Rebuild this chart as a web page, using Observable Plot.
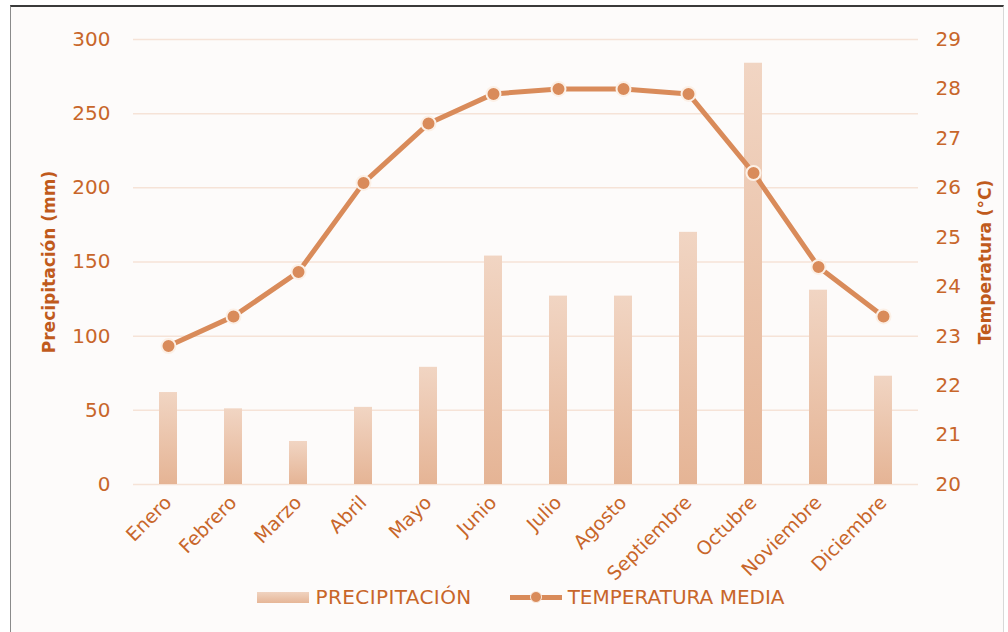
<!DOCTYPE html>
<html>
<head>
<meta charset="utf-8">
<script src="https://cdn.jsdelivr.net/npm/d3@7"></script>
<script src="https://cdn.jsdelivr.net/npm/@observablehq/plot@0.6"></script>
<style>
  html, body { margin: 0; padding: 0; background: #ffffff; }
  #page { position: relative; width: 1008px; height: 632px; overflow: hidden; font-family: "DejaVu Sans", sans-serif; }
  #frame { position: absolute; left: 10px; top: 5px; width: 992px; height: 625px; background: #fdfbfa;
           border-top: 2px solid #3a3a3a; border-left: 1px solid #8a8a8a; border-right: 1px solid #d8d8d8; border-bottom: 1px solid #d0d0d0; }
  #chart { position: absolute; left: 0; top: 0; }
  #legend { position: absolute; left: 17px; top: 585px; width: 1008px; display: flex; justify-content: center; align-items: center; color: #c8662a; font-size: 20px; }
  .item { display: flex; align-items: center; }
  .item.first { margin-right: 38px; }
  .item span.a { letter-spacing: 0.4px; }
  .swbar { width: 52px; height: 11px; background: linear-gradient(#f0d3c0, #e6b697); margin-right: 6px; }
  .swline { position: relative; width: 52px; height: 12px; margin-right: 6px; }
  .swline .l { position: absolute; left: 0; right: 0; top: 3.5px; height: 5px; background: #d98b5a; }
  .swline .d { position: absolute; left: 20px; top: 0; width: 10px; height: 10px; border-radius: 50%; background: #d98b5a; border: 1px solid #fbeee4; }
</style>
</head>
<body>
<div id="page">
  <div id="frame"></div>
  <div id="chart"></div>
  <div id="legend">
    <div class="item first"><div class="swbar"></div><span class="a">PRECIPITACIÓN</span></div>
    <div class="item"><div class="swline"><div class="l"></div><div class="d"></div></div><span>TEMPERATURA MEDIA</span></div>
  </div>
</div>
<script>
const months = ["Enero", "Febrero", "Marzo", "Abril", "Mayo", "Junio", "Julio", "Agosto", "Septiembre", "Octubre", "Noviembre", "Diciembre"];
const precipitation = [62, 51, 29, 52, 79, 154, 127, 127, 170, 284, 131, 73];
const temperature = [22.8, 23.4, 24.3, 26.1, 27.3, 27.9, 28.0, 28.0, 27.9, 26.3, 24.4, 23.4];
const precipTicks = [0, 50, 100, 150, 200, 250, 300];
const tempTicks = [20, 21, 22, 23, 24, 25, 26, 27, 28, 29];

const tMin = 20, tMax = 29, pMax = 300;
const tToY = t => (t - tMin) * pMax / (tMax - tMin);
const yToT = v => Math.round(v * (tMax - tMin) / pMax + tMin);

const data = months.map((m, i) => ({month: m, precip: precipitation[i], temp: temperature[i]}));

const textColor = "#c8662a";
const titleColor = "#c05a1c";
const lineColor = "#d98b5a";

function gradientDefs() {
  const ns = "http://www.w3.org/2000/svg";
  const defs = document.createElementNS(ns, "defs");
  const g = document.createElementNS(ns, "linearGradient");
  g.setAttribute("id", "barGrad");
  g.setAttribute("x1", "0"); g.setAttribute("y1", "0");
  g.setAttribute("x2", "0"); g.setAttribute("y2", "1");
  [["0%", "#f1d5c3"], ["100%", "#e5b495"]].forEach(([o, c]) => {
    const s = document.createElementNS(ns, "stop");
    s.setAttribute("offset", o); s.setAttribute("stop-color", c);
    g.appendChild(s);
  });
  defs.appendChild(g);
  return defs;
}

const chart = Plot.plot({
  width: 1008,
  height: 632,
  marginLeft: 133,
  marginRight: 90,
  marginTop: 39,
  marginBottom: 148,
  style: {background: "transparent", fontFamily: "DejaVu Sans, sans-serif", color: textColor},
  x: {domain: months, paddingInner: 0.72, paddingOuter: 0.36},
  y: {domain: [0, pMax]},
  marks: [
    gradientDefs,
    Plot.gridY(precipTicks, {stroke: "#f6e3d7", strokeOpacity: 1, strokeWidth: 1.5}),
    Plot.barY(data, {x: "month", y: "precip", fill: "url(#barGrad)"}),
    Plot.line(data, {x: "month", y: d => tToY(d.temp), stroke: lineColor, strokeWidth: 5, curve: "linear"}),
    Plot.dot(data, {x: "month", y: d => tToY(d.temp), r: 7, fill: lineColor, stroke: "#fcf0e6", strokeWidth: 2}),
    Plot.axisY(precipTicks, {anchor: "left", tickSize: 0, tickPadding: 23, fontSize: 20, fill: textColor, label: null}),
    Plot.axisY(tempTicks.map(tToY), {anchor: "right", tickSize: 0, tickPadding: 17, fontSize: 20, fill: textColor, tickFormat: yToT, label: null}),
    Plot.axisX({anchor: "bottom", tickSize: 0, tickPadding: 15, tickRotate: -45, fontSize: 19, fill: textColor, label: null}),
    Plot.text(["Precipitación (mm)"], {frameAnchor: "left", dx: -84, rotate: -90, textAnchor: "middle", fontSize: 17, fontWeight: "bold", fill: titleColor}),
    Plot.text(["Temperatura (°C)"], {frameAnchor: "right", dx: 67, rotate: -90, textAnchor: "middle", fontSize: 17, fontWeight: "bold", fill: titleColor})
  ]
});
document.getElementById("chart").appendChild(chart);
</script>
</body>
</html>
